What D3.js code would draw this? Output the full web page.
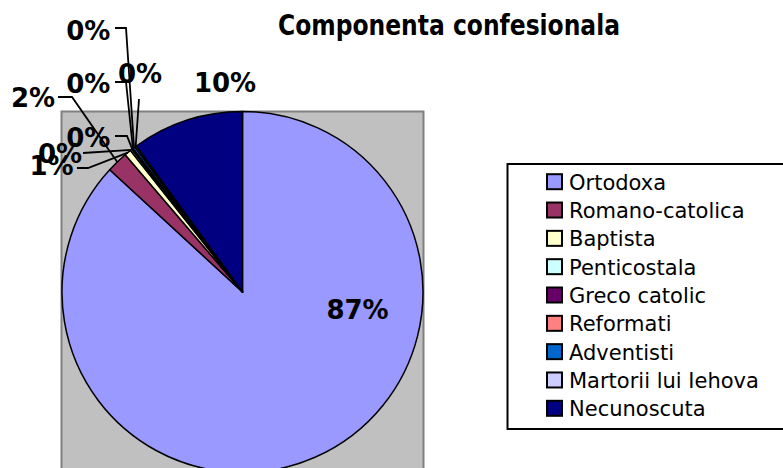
<!DOCTYPE html>
<html>
<head>
<meta charset="utf-8">
<script src="https://cdn.jsdelivr.net/npm/d3@7"></script>
<style>
  html, body { margin: 0; padding: 0; background: #ffffff; }
  svg { display: block; }
</style>
</head>
<body>
<svg id="chart" width="783" height="468"></svg>
<script>
// ---- data ----
const title = "Componenta confesionala";
const categories = ["Ortodoxa", "Romano-catolica", "Baptista", "Penticostala", "Greco catolic",
                    "Reformati", "Adventisti", "Martorii lui Iehova", "Necunoscuta"];
const values = [86.8, 1.9, 0.6, 0.15, 0.1, 0.05, 0.2, 0.15, 10.0];
const colors = ["#9999FF", "#993366", "#FFFFCC", "#CCFFFF", "#660066",
                "#FF8080", "#0066CC", "#CCCCFF", "#000080"];

// ---- layout (label placement, leader elbows) ----
const labelPos = [ // [centerX, baseline, attachX, attachY, elbowX, elbowY] (null = no leader)
  [357.5, 318.5, null, null, null, null],
  [33, 107, 58, 97, 72, 97],
  [51.5, 175, 77, 168, 88, 168],
  [60, 163, 83, 153, 83, 153],
  [88.3, 146.5, 115, 136, 127, 136],
  [88.3, 93, 115, 82, 126, 82],
  [88.3, 40, 115, 28, 126, 28],
  [140, 83, 139, 99, 139, 99],
  [225, 92, null, null, null, null]
];

const svg = d3.select("#chart");
const cx = 242.5, cy = 292, R = 180.5;

// plot area
svg.append("rect")
  .attr("x", 61.5).attr("y", 111.5)
  .attr("width", 362).attr("height", 380)
  .attr("fill", "#C0C0C0").attr("stroke", "#808080").attr("stroke-width", 2);

// title
svg.append("text")
  .attr("x", 449).attr("y", 35)
  .attr("text-anchor", "middle")
  .attr("font-family", "'DejaVu Sans Condensed', 'DejaVu Sans', sans-serif")
  .attr("font-weight", "bold")
  .attr("font-size", 29)
  .attr("textLength", 342).attr("lengthAdjust", "spacingAndGlyphs")
  .text(title);

const total = d3.sum(values);
const pie = d3.pie().sort(null).value(d => d)(values);
const arc = d3.arc().innerRadius(0).outerRadius(R);

const g = svg.append("g").attr("transform", `translate(${cx},${cy})`);
g.selectAll("path.slice").data(pie).enter().append("path")
  .attr("class", "slice")
  .attr("d", arc)
  .attr("fill", (d, i) => colors[i])
  .attr("stroke", "#000").attr("stroke-width", 1.5).attr("stroke-linejoin", "round");

// leader lines
pie.forEach((d, i) => {
  const p = labelPos[i];
  if (p[2] === null) return;
  const a = (d.startAngle + d.endAngle) / 2;
  const ex = cx + R * Math.sin(a), ey = cy - R * Math.cos(a);
  const line = d3.line();
  svg.append("path")
    .attr("d", line([[p[2], p[3]], [p[4], p[5]], [ex, ey]]))
    .attr("fill", "none").attr("stroke", "#000").attr("stroke-width", 1.8);
});

// percent labels
pie.forEach((d, i) => {
  const p = labelPos[i];
  svg.append("text")
    .attr("x", p[0]).attr("y", p[1])
    .attr("text-anchor", "middle")
    .attr("font-family", "'DejaVu Sans', sans-serif")
    .attr("font-weight", "bold")
    .attr("font-size", 26)
    .attr("fill", "#000")
    .text(Math.round(values[i] / total * 100) + "%");
});

// legend
const lg = svg.append("g");
lg.append("rect")
  .attr("x", 507.5).attr("y", 164)
  .attr("width", 300).attr("height", 265)
  .attr("fill", "#fff").attr("stroke", "#000").attr("stroke-width", 2);

const ly = d3.scalePoint().domain(categories).range([181.7, 408.3]);
categories.forEach((c, i) => {
  const y = ly(c);
  lg.append("rect")
    .attr("x", 547).attr("y", y - 7.5)
    .attr("width", 15).attr("height", 15)
    .attr("fill", colors[i]).attr("stroke", "#000").attr("stroke-width", 2);
  lg.append("text")
    .attr("x", 569).attr("y", y + 8)
    .attr("font-family", "'DejaVu Sans', sans-serif")
    .attr("font-size", 21)
    .attr("fill", "#000")
    .text(c);
});
</script>
</body>
</html>
